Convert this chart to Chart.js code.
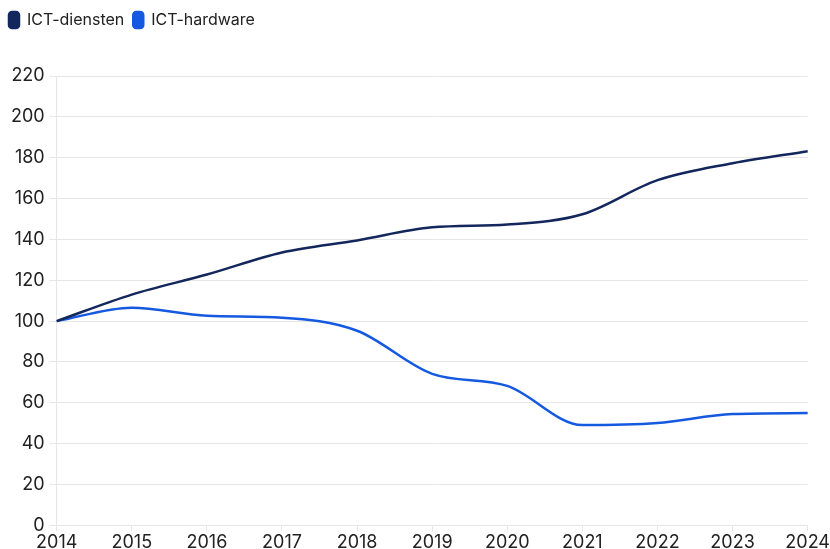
<!DOCTYPE html>
<html>
<head>
<meta charset="utf-8">
<script src="https://cdn.jsdelivr.net/npm/chart.js@4/dist/chart.umd.min.js"></script>
<style>
  html, body { margin: 0; padding: 0; background: #fff; }
  #wrap { width: 830px; height: 549px; }
</style>
</head>
<body>
<div id="wrap"><canvas id="grafiek"></canvas></div>
<script>
// jaren op de x-as
const jaren = ['2014', '2015', '2016', '2017', '2018', '2019', '2020', '2021', '2022', '2023', '2024'];
// indexcijfers (2014 = 100)
const ictDiensten = [100, 113, 122.8, 133.6, 139.5, 145.9, 147.3, 152.3, 169, 177.3, 183.2];
const ictHardware = [100, 106.6, 102.6, 101.7, 95.3, 74.2, 68.3, 49.1, 50.1, 54.5, 55];

const kleurDiensten = '#14275c';
const kleurHardware = '#1559e0';
const rasterKleur = '#e6e6e6';

Chart.defaults.font.family = "Inter, 'Noto Sans', sans-serif";
Chart.defaults.font.size = 18;
Chart.defaults.color = '#222';

// extra ruimte onder de legenda
const legendaRuimte = {
    id: 'legendaRuimte',
    beforeInit(chart) {
        const origFit = chart.legend.fit;
        chart.legend.fit = function () {
            origFit.bind(chart.legend)();
            this.height += 38;
        };
    }
};

new Chart(document.getElementById('grafiek'), {
    type: 'line',
    data: {
        labels: jaren,
        datasets: [
            {
                label: 'ICT-diensten',
                data: ictDiensten,
                borderColor: kleurDiensten,
                backgroundColor: kleurDiensten,
                borderWidth: 2.5,
                pointRadius: 0,
                cubicInterpolationMode: 'monotone'
            },
            {
                label: 'ICT-hardware',
                data: ictHardware,
                borderColor: kleurHardware,
                backgroundColor: kleurHardware,
                borderWidth: 2.5,
                pointRadius: 0,
                cubicInterpolationMode: 'monotone'
            }
        ]
    },
    options: {
        responsive: true,
        maintainAspectRatio: false,
        animation: false,
        layout: { padding: { left: 0, right: 2, top: 3, bottom: -4 } },
        plugins: {
            legend: {
                position: 'top',
                align: 'start',
                labels: {
                    boxWidth: 10,
                    boxHeight: 16,
                    useBorderRadius: true,
                    borderRadius: 3,
                    padding: 9,
                    color: '#222',
                    font: { size: 16 }
                }
            },
            tooltip: { enabled: false }
        },
        scales: {
            x: {
                grid: { drawOnChartArea: false, color: rasterKleur, tickLength: 6 },
                border: { display: false },
                ticks: { padding: 0, maxRotation: 0 }
            },
            y: {
                min: 0,
                max: 220,
                ticks: { stepSize: 20, padding: 5 },
                grid: { color: rasterKleur, tickLength: 7 },
                border: { color: rasterKleur },
                afterFit(as) { as.width += 6; }
            }
        }
    },
    plugins: [legendaRuimte]
});
</script>
</body>
</html>
